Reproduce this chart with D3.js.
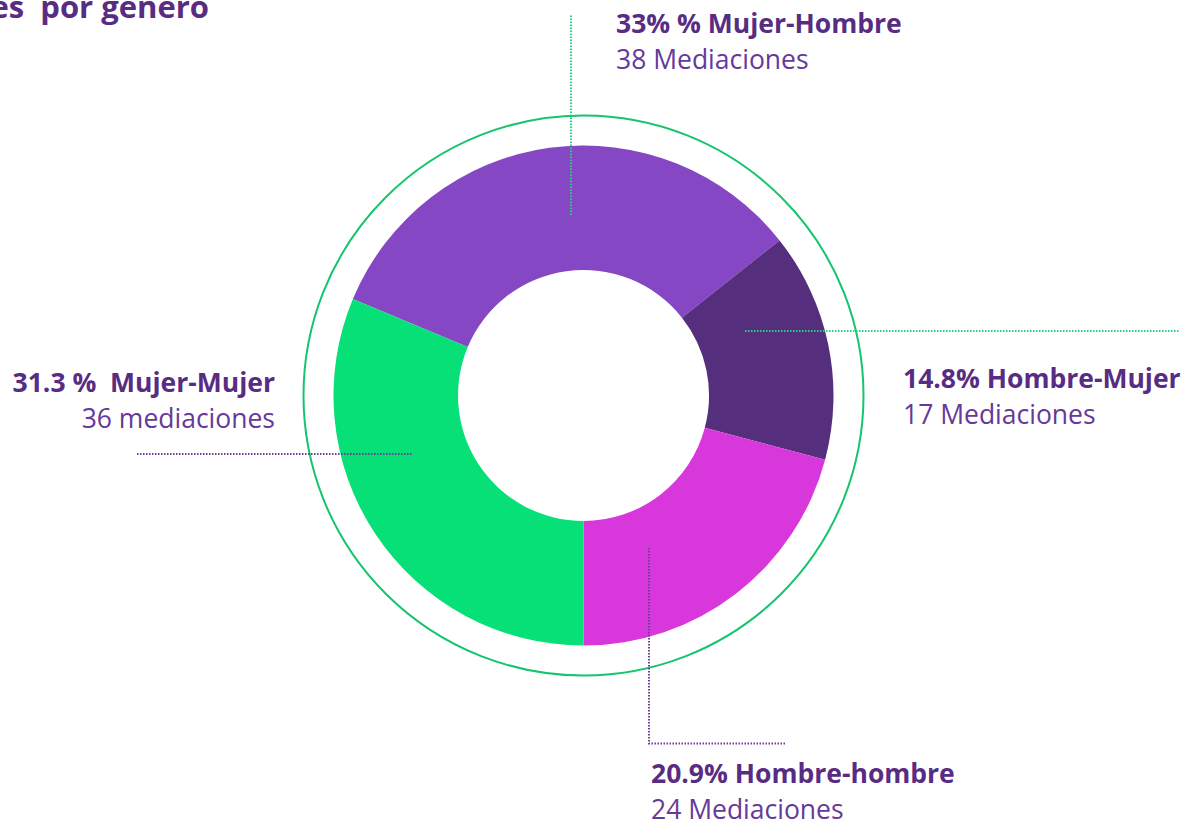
<!DOCTYPE html>
<html>
<head>
<meta charset=utf-8>
<title>Mediaciones por genero</title>
<style>
body{margin: 0; background: #fff;}
svg{display: block;}
.lbl-main{font-family: 'Open Sans', sans-serif; font-weight: 700; font-size: 26.5px; fill: #582C83; white-space: pre;}
.lbl-sub{font-family: 'Open Sans', sans-serif; font-weight: 400; font-size: 26.5px; fill: #66399A; white-space: pre;}
.title{font-family: 'Open Sans', sans-serif; font-weight: 700; font-size: 31px; fill: #582C83; white-space: pre;}
.leader{fill: none; stroke-width: 2; stroke-dasharray: 1.5,1.5;}
</style>
</head>
<body>
<div id=chart></div>
<script src='https://cdn.jsdelivr.net/npm/d3@7'></script>
<script>
//data
var categories = ['Mujer-Hombre', 'Hombre-Mujer', 'Hombre-hombre', 'Mujer-Mujer'];
var counts = [38, 17, 24, 36];
var pctLabels = ['33% % Mujer-Hombre', '14.8% Hombre-Mujer', '20.9% Hombre-hombre', '31.3 %  Mujer-Mujer'];
var subLabels = ['38 Mediaciones', '17 Mediaciones', '24 Mediaciones', '36 mediaciones'];
var colors = ['#8547C4', '#562E7E', '#D838DB', '#07DF77'];

var width = 1194, height = 823;
var cx = 583.5, cy = 395.5;
var outerR = 250, innerR = 125.5, ringR = 280;

var svg = d3.select('#chart').append('svg')
    .attr('width', width)
    .attr('height', height);

//title, cut off at the left edge as in the original
svg.append('text')
    .attr('class', 'title')
    .attr('text-anchor', 'end')
    .attr('x', 209)
    .attr('y', 17.5)
    .text('Mediaciones  por genero');

var g = svg.append('g')
    .attr('transform', 'translate(' + cx + ',' + cy + ')');

//pie: last slice (Mujer-Mujer) ends at the bottom, magenta ends at 180deg
var total = d3.sum(counts);
var start = Math.PI - 2 * Math.PI * (counts[0] + counts[1] + counts[2]) / total;
var pie = d3.pie().sort(null).value(d => d)
    .startAngle(start)
    .endAngle(start + 2 * Math.PI);
var arc = d3.arc().innerRadius(innerR).outerRadius(outerR);

//thin outer ring
g.append('circle')
    .attr('r', ringR)
    .attr('fill', 'none')
    .attr('stroke', '#14C56E')
    .attr('stroke-width', 2);

g.selectAll('path.slice')
    .data(pie(counts))
  .enter().append('path')
    .attr('class', 'slice')
    .attr('fill', (d, i) => colors[i])
    .attr('d', arc);

//leader lines (relative to centre)
var leaders = [
  {pts: [[-12.5, -380], [-12.5, -179]], color: '#22D37C'},
  {pts: [[161.5, -64.5], [596.5, -64.5]], color: '#22D37C'},
  {pts: [[65.5, 152.5], [65.5, 348], [201.5, 348]], color: '#6B3E98'},
  {pts: [[-446.5, 58.5], [-170.5, 58.5]], color: '#6B3E98'}
];
g.selectAll('path.leader')
    .data(leaders)
  .enter().append('path')
    .attr('class', 'leader')
    .attr('stroke', d => d.color)
    .attr('d', d => d3.line()(d.pts));

//labels (relative to centre)
var labelPos = [
  {x: 32.5, y: -362.5, anchor: 'start'},
  {x: 319.5, y: -7.5, anchor: 'start'},
  {x: 67.5, y: 387.5, anchor: 'start'},
  {x: -308.5, y: -3.5, anchor: 'end'}
];
var labels = g.selectAll('g.label')
    .data(categories)
  .enter().append('g')
    .attr('class', 'label')
    .attr('transform', (d, i) => 'translate(' + labelPos[i].x + ',' + labelPos[i].y + ')');

labels.append('text')
    .attr('class', 'lbl-main')
    .attr('text-anchor', (d, i) => labelPos[i].anchor)
    .text((d, i) => pctLabels[i]);

labels.append('text')
    .attr('class', 'lbl-sub')
    .attr('text-anchor', (d, i) => labelPos[i].anchor)
    .attr('y', 36)
    .text((d, i) => subLabels[i]);
</script>
</body>
</html>
